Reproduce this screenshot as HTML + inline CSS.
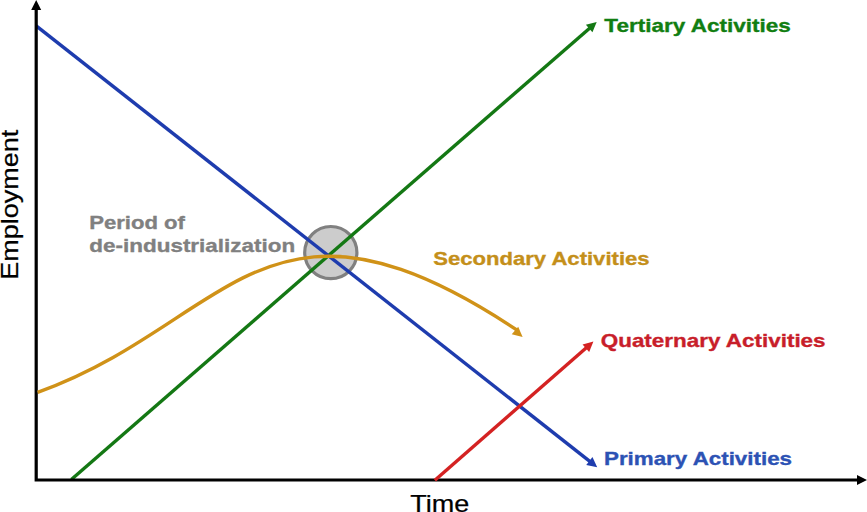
<!DOCTYPE html>
<html>
<head>
<meta charset="utf-8">
<style>
html,body{margin:0;padding:0;background:#fff;}
body{width:867px;height:512px;overflow:hidden;}
svg{display:block;}
text{font-family:"Liberation Sans",sans-serif;}
.b{font-weight:bold;font-size:19px;stroke-width:0.35px;}
.r{font-size:24px;stroke:#000;stroke-width:0.25px;}
</style>
</head>
<body>
<svg width="867" height="512" viewBox="0 0 867 512">
<rect width="867" height="512" fill="#fff"/>
<circle cx="330.8" cy="252.6" r="26.1" fill="#cccccc" stroke="#808080" stroke-width="3.2"/>
<line x1="71.36" y1="479.50" x2="589.91" y2="27.91" stroke="#147814" stroke-width="3.4"/>
<polygon points="596.70,22.00 592.44,32.34 585.88,24.80" fill="#147814"/>
<line x1="36.20" y1="25.80" x2="590.13" y2="461.63" stroke="#1e3cae" stroke-width="3.4"/>
<polygon points="597.20,467.20 586.25,464.95 592.43,457.09" fill="#1e3cae"/>
<polyline points="36.2,9 36.2,480 858,480" fill="none" stroke="#000" stroke-width="3.2" stroke-linejoin="miter" stroke-linecap="square"/>
<polygon points="36.2,0 31.2,10 41.2,10" fill="#000"/>
<polygon points="867,480 857,475 857,485" fill="#000"/>
<line x1="434.86" y1="480.30" x2="586.63" y2="347.53" stroke="#d42222" stroke-width="3.4"/>
<polygon points="593.40,341.60 589.17,351.95 582.58,344.42" fill="#d42222"/>
<path d="M37.6,392.3 C229.2,323.8 264.5,162.5 516.0,329.4 L517.2,332.4" fill="none" stroke="#d09218" stroke-width="3.4" stroke-linejoin="round"/>
<polygon points="522.60,337.00 511.74,334.34 518.21,326.72" fill="#d09218"/>
<text class="b" x="604.36" y="31.5" fill="#117e11" stroke="#117e11" textLength="186.39" lengthAdjust="spacingAndGlyphs">Tertiary Activities</text>
<text class="b" x="433.16" y="264.5" fill="#c48f1a" stroke="#c48f1a" textLength="216.45" lengthAdjust="spacingAndGlyphs">Secondary Activities</text>
<text class="b" x="600.76" y="346.8" fill="#c81e2a" stroke="#c81e2a" textLength="224.83" lengthAdjust="spacingAndGlyphs">Quaternary Activities</text>
<text class="b" x="604.01" y="464.5" fill="#2c52b4" stroke="#2c52b4" textLength="188.02" lengthAdjust="spacingAndGlyphs">Primary Activities</text>
<text class="b" x="89.19" y="228.8" fill="#808080" stroke="#808080" textLength="95.69" lengthAdjust="spacingAndGlyphs">Period of</text>
<text class="b" x="89.38" y="251.8" fill="#808080" stroke="#808080" textLength="205.77" lengthAdjust="spacingAndGlyphs">de-industrialization</text>
<text class="r" x="410.39" y="511.5" fill="#000" textLength="59.0" lengthAdjust="spacingAndGlyphs">Time</text>
<text class="r" transform="translate(18.1,279.8) rotate(-90)" fill="#000" textLength="150.0" lengthAdjust="spacingAndGlyphs">Employment</text>
</svg>
</body>
</html>
